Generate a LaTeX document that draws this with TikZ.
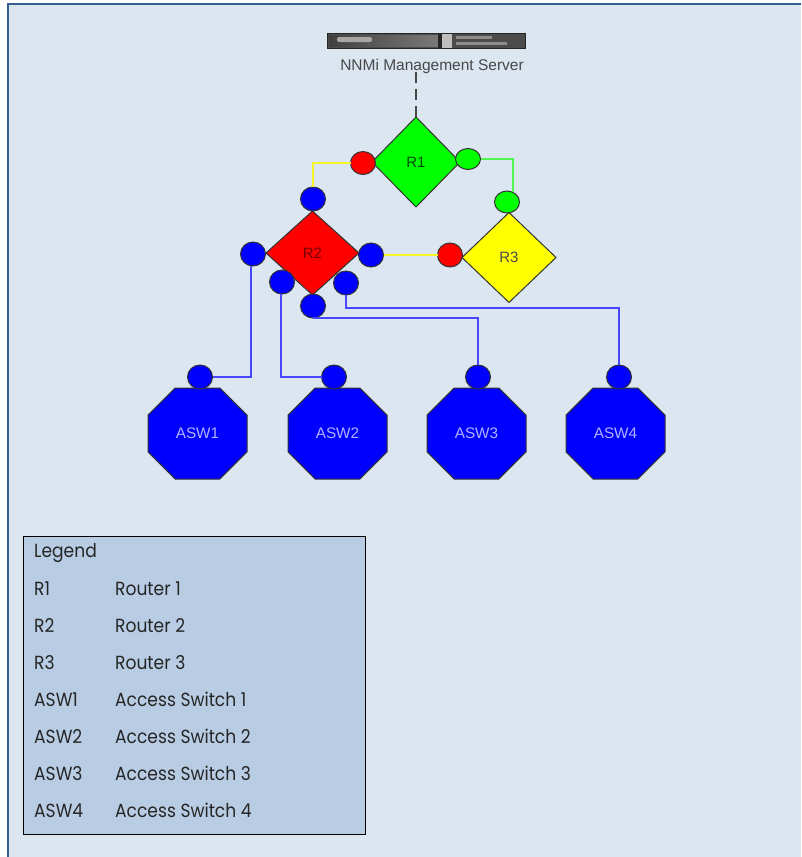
\documentclass[tikz,border=0pt]{standalone}
\usepackage{fontspec}
\setmainfont[FakeStretch=0.9]{Poppins}
\newfontfamily\netfont{Liberation Sans}
\usetikzlibrary{positioning, shapes.geometric, shapes.misc}

\definecolor{panelfill}{RGB}{220,230,241}
\definecolor{panelline}{RGB}{54,95,145}
\definecolor{legendfill}{RGB}{184,204,228}
\definecolor{netblue}{RGB}{0,0,255}
\definecolor{netgreen}{RGB}{0,255,0}
\definecolor{netred}{RGB}{255,0,0}
\definecolor{netyellow}{RGB}{255,255,0}
\definecolor{linkblue}{RGB}{70,70,255}
\definecolor{linkgreen}{RGB}{80,245,80}
\definecolor{linkyellow}{RGB}{245,245,40}

\tikzset{
    router/.style={draw=black!80, line width=1, shape=diamond, aspect=1, inner sep=0, outer sep=0,
        minimum width=90, minimum height=90, font=\netfont\fontsize{15}{16}\selectfont},
    switch/.style={draw=black!80, line width=1, fill=netblue, shape=chamfered rectangle, inner sep=0, outer sep=0,
        chamfered rectangle xsep=29, chamfered rectangle ysep=27,
        minimum width=99, minimum height=91, text=blue!30!white,
        font=\netfont\fontsize{15.3}{16}\selectfont},
    port/.style={draw=black!80, line width=1, shape=ellipse, inner sep=0, outer sep=0,
        minimum width=25, minimum height=24},
    bluelink/.style={draw=linkblue, line width=1.6},
    greenlink/.style={draw=linkgreen, line width=1.8},
    yellowlink/.style={draw=linkyellow, line width=2},
    legendtxt/.style={anchor=west, inner sep=0, text=black!85,
        text height=14, text depth=0,
        font=\fontsize{19}{22}\selectfont}
}

\begin{document}
\begin{tikzpicture}[x=1pt, y=-1pt]
    \useasboundingbox (0,0) rectangle (801,857);
    \fill[panelfill] (8,4) rectangle (801,857);
    \draw[panelline, line width=1.2] (801,4) -- (8,4) -- (8,857);

    % server %
    \node [inner sep=0, outer sep=0,
        draw=black!85,
        fill=black!70,
        minimum width=198,
        minimum height=15,
        path picture={
            \shade[left color=black!75, right color=black!35]
                ([xshift=2,yshift=-2]path picture bounding box.north west)
                rectangle ([xshift=113,yshift=2]path picture bounding box.south west);
            \fill[black!35, rounded corners=2] ([xshift=10,yshift=-4]path picture bounding box.north west)
                rectangle ([xshift=45,yshift=-9]path picture bounding box.north west);
            \fill[black!85] ([xshift=111]path picture bounding box.north west)
                rectangle ([xshift=115]path picture bounding box.south west);
            \fill[black!25] ([xshift=115]path picture bounding box.north west)
                rectangle ([xshift=125]path picture bounding box.south west);
            \fill[black!45] ([xshift=129,yshift=-3]path picture bounding box.north west)
                rectangle ([xshift=165,yshift=-6]path picture bounding box.north west);
            \fill[black!45] ([xshift=129,yshift=-9]path picture bounding box.north west)
                rectangle ([xshift=180,yshift=-12]path picture bounding box.north west);
        }
    ] (server) at (426,40.5) {};
    \node [inner sep=0, text=black!72, font=\netfont\fontsize{15.5}{16}\selectfont]
        (serverlbl) at (432,66) {NNMi Management Server};

    % routers %
    \node [router, fill=netgreen, text=green!30!black, minimum width=88] (R1) at (416,162) {R1\hspace{3pt}};
    \node [router, fill=netred, text=red!45!black, minimum width=93, minimum height=84] (R2) at (312.5,253) {R2};
    \node [router, fill=netyellow, text=black!70, minimum width=94] (R3) at (509,257.5) {R3\hspace{4pt}};

    % router ports %
    \node [port, fill=netred, minimum height=23] (R1w) at (363,163) {};
    \node [port, fill=netgreen, minimum height=21] (R1e) at (468,159) {};
    \node [port, fill=netgreen, minimum height=22] (R3n) at (507,202) {};
    \node [port, fill=netred] (R3w) at (450,255) {};
    \node [port, fill=netblue] (R2n) at (313,199) {};
    \node [port, fill=netblue] (R2w) at (253,254) {};
    \node [port, fill=netblue] (R2e) at (371,255) {};
    \node [port, fill=netblue] (R2sw) at (282,282) {};
    \node [port, fill=netblue] (R2se) at (346,283) {};
    \node [port, fill=netblue] (R2s) at (313,306) {};

    % switches %
    \node [switch] (ASW1) at (197.5,433.5) {ASW1\hspace{3pt}};
    \node [switch] (ASW2) at (337.5,433.5) {ASW2};
    \node [switch] (ASW3) at (476.5,433.5) {ASW3};
    \node [switch] (ASW4) at (615.5,433.5) {ASW4};

    % switch ports %
    \node [port, fill=netblue] (ASW1n) at (200,377) {};
    \node [port, fill=netblue] (ASW2n) at (334,377) {};
    \node [port, fill=netblue] (ASW3n) at (478,377) {};
    \node [port, fill=netblue] (ASW4n) at (619,377) {};

    % links %
    \coordinate (dashtop) at (416,72);
    \coordinate (sebend) at (346,308);
    \draw[black!72, line width=1.8, dash pattern=on 11 off 6] (dashtop) -- (R1.north);
    \draw[yellowlink] (R1w.west) -| (R2n.north);
    \draw[greenlink] (R1e.east) -| (R3n.60);
    \draw[yellowlink] (R2e.east) -- (R3w.west);
    \draw[bluelink] (R2w.-100) |- (ASW1n.east);
    \draw[bluelink] (R2sw.-95) |- (ASW2n.west);
    \draw[bluelink] (R2s.south) -| (ASW3n.north);
    \draw[bluelink] (R2se.south) -- (sebend) -| (ASW4n.north);

    % legend %
    \node [draw=black, fill=legendfill, line width=0.9, inner sep=0, outer sep=0,
        minimum width=342,
        minimum height=298
    ] (legend) at (194.5,685) {};
    \node [legendtxt] (legendhead) at (34,550) {Legend};
    \node [legendtxt] (keyR1) at (34,588) {R1};
    \node [legendtxt] (keyR2) at (34,625) {R2};
    \node [legendtxt] (keyR3) at (34,662) {R3};
    \node [legendtxt] (keyA1) at (34,699) {ASW1};
    \node [legendtxt] (keyA2) at (34,736) {ASW2};
    \node [legendtxt] (keyA3) at (34,773) {ASW3};
    \node [legendtxt] (keyA4) at (34,810) {ASW4};
    \node [legendtxt] (nameR1) at (115,588) {Router 1};
    \node [legendtxt] (nameR2) at (115,625) {Router 2};
    \node [legendtxt] (nameR3) at (115,662) {Router 3};
    \node [legendtxt] (nameA1) at (115,699) {Access Switch 1};
    \node [legendtxt] (nameA2) at (115,736) {Access Switch 2};
    \node [legendtxt] (nameA3) at (115,773) {Access Switch 3};
    \node [legendtxt] (nameA4) at (115,810) {Access Switch 4};
\end{tikzpicture}
\end{document}
